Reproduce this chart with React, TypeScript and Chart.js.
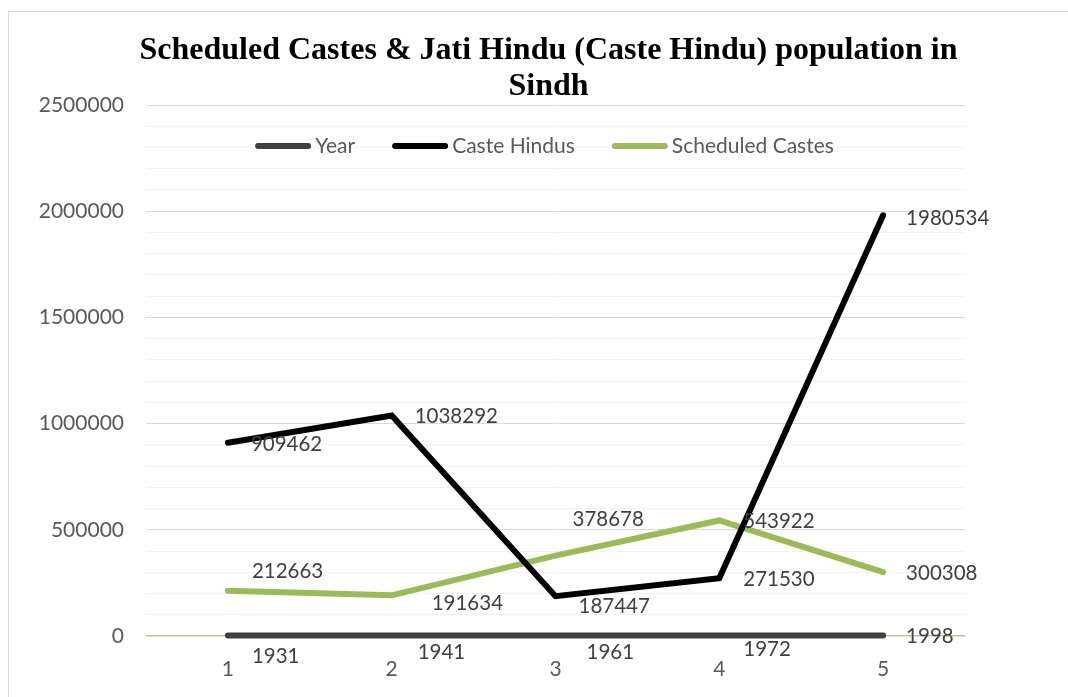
import React, { useEffect, useRef } from 'react';
import { Chart, registerables } from 'chart.js';

Chart.register(...registerables);

const categories = ['1', '2', '3', '4', '5'];
const years = [1931, 1941, 1961, 1972, 1998];
const casteHindus = [909462, 1038292, 187447, 271530, 1980534];
const scheduledCastes = [212663, 191634, 378678, 543922, 300308];
const seriesNames = ['Year', 'Caste Hindus', 'Scheduled Castes'];
const yTickLabels = [0, 500000, 1000000, 1500000, 2000000, 2500000];
const titleLines = ['Scheduled Castes & Jati Hindu (Caste Hindu) population in', 'Sindh'];

// style: data-label offsets (dx, dy) relative to each point
const labelOffsets = [
  [[24, 21], [26, 17], [31, 17], [24, 14], [23, 1]],
  [[23, 2], [23, 1], [23, 10], [24, 1], [23, 3]],
  [[24, -19], [40, 8], [17, -36], [24, 1], [23, 1]],
];

const FONT = 'Lato, "Open Sans", sans-serif';
const TICK_COLOR = '#595959';
const LABEL_COLOR = '#404040';

const dataLabelPlugin = {
  id: 'dataLabels',
  afterDatasetsDraw(chart: any) {
    const ctx = chart.ctx;
    ctx.save();
    ctx.font = `20.5px ${FONT}`;
    ctx.fillStyle = LABEL_COLOR;
    ctx.textAlign = 'left';
    ctx.textBaseline = 'middle';
    chart.data.datasets.forEach((ds: any, i: number) => {
      const meta = chart.getDatasetMeta(i);
      meta.data.forEach((el: any, j: number) => {
        const [dx, dy] = labelOffsets[i][j];
        ctx.fillText(String(ds.data[j]), el.x + dx, el.y + dy);
      });
    });
    ctx.restore();
  },
};

const legendPlugin = {
  id: 'customLegend',
  afterDraw(chart: any) {
    const ctx = chart.ctx;
    const area = chart.chartArea;
    ctx.save();
    ctx.font = `21px ${FONT}`;
    const lineLen = 56;
    const gapText = 4;
    const gapItem = 37;
    const items = chart.data.datasets.map((ds: any) => ({
      label: ds.label,
      color: ds.borderColor,
      w: ctx.measureText(ds.label).width,
    }));
    const total =
      items.reduce((s: number, it: any) => s + lineLen + gapText + it.w, 0) + gapItem * (items.length - 1);
    const cx = (area.left + area.right) / 2 - 11;
    let x = cx - total / 2;
    const y = area.top + 41;
    items.forEach((it: any) => {
      ctx.strokeStyle = it.color;
      ctx.lineWidth = 6;
      ctx.lineCap = 'round';
      ctx.beginPath();
      ctx.moveTo(x + 3, y);
      ctx.lineTo(x + lineLen - 3, y);
      ctx.stroke();
      ctx.fillStyle = TICK_COLOR;
      ctx.textAlign = 'left';
      ctx.textBaseline = 'middle';
      ctx.fillText(it.label, x + lineLen + gapText, y);
      x += lineLen + gapText + it.w + gapItem;
    });
    ctx.restore();
  },
};

export default function App() {
  const ref = useRef<HTMLCanvasElement | null>(null);

  useEffect(() => {
    if (!ref.current) return;
    const common = {
      fill: false,
      pointRadius: 0,
      pointHoverRadius: 0,
      borderWidth: 6,
      borderCapStyle: 'round',
      borderJoinStyle: 'miter',
      tension: 0,
      clip: false,
    };
    const chart = new Chart(ref.current, {
      type: 'line',
      data: {
        labels: categories,
        datasets: [
          { ...common, label: seriesNames[0], data: years, borderColor: '#404040', backgroundColor: '#404040' },
          { ...common, label: seriesNames[1], data: casteHindus, borderColor: '#000000', backgroundColor: '#000000' },
          { ...common, label: seriesNames[2], data: scheduledCastes, borderColor: '#9bbb59', backgroundColor: '#9bbb59' },
        ] as any,
      },
      options: {
        animation: false,
        responsive: false,
        events: [],
        layout: { padding: { left: 20, right: 0, top: 0, bottom: 0 } },
        plugins: {
          legend: { display: false },
          tooltip: { enabled: false },
          title: {
            display: true,
            text: titleLines,
            color: '#000000',
            font: { family: '"Liberation Serif", "Times New Roman", serif', size: 32, weight: 'bold', lineHeight: 36 / 32 },
            padding: { top: 21, bottom: 0 },
          },
        },
        scales: {
          x: {
            type: 'category',
            offset: true,
            grid: { display: false },
            border: { display: false },
            ticks: { color: TICK_COLOR, font: { family: FONT, size: 21 }, padding: 13, maxRotation: 0 },
            afterFit: (s: any) => {
              s.height = 61;
            },
          },
          y: {
            min: 0,
            max: 2500000,
            border: { display: false },
            grid: {
              drawTicks: false,
              lineWidth: (c: any) => (c.tick && c.tick.value === 0 ? 1.5 : 1),
              color: (c: any) => {
                const v = c.tick ? Math.round(c.tick.value) : 1;
                if (v === 0) return '#c8bea0';
                return v % 500000 === 0 ? '#d9d9d9' : '#f2f2f2';
              },
            },
            ticks: {
              stepSize: 100000,
              autoSkip: false,
              padding: 22,
              color: TICK_COLOR,
              font: { family: FONT, size: 21 },
              callback: (v: any) => (yTickLabels.includes(Math.round(Number(v))) ? String(Math.round(Number(v))) : ''),
            },
            afterFit: (s: any) => {
              s.width = 117;
            },
          },
          yRight: {
            position: 'right',
            display: true,
            min: 0,
            max: 1,
            grid: { display: false },
            border: { display: false },
            ticks: { display: false },
            afterFit: (s: any) => {
              s.width = 103;
            },
          },
        },
      } as any,
      plugins: [dataLabelPlugin, legendPlugin],
    });
    return () => chart.destroy();
  }, []);

  return (
    <div
      style={{
        position: 'fixed',
        left: 8,
        top: 11,
        width: 1070,
        height: 700,
        border: '1px solid #d9d9d9',
        background: '#ffffff',
        boxSizing: 'border-box',
      }}
    >
      <canvas ref={ref} width={1059} height={685} style={{ display: 'block' }} />
    </div>
  );
}
